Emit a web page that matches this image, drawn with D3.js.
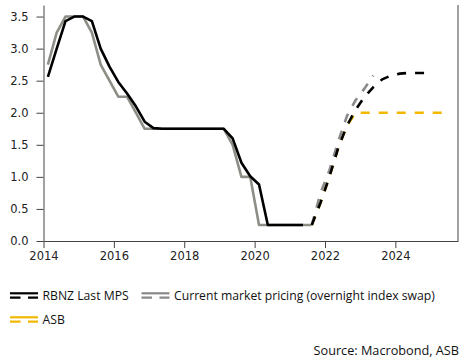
<!DOCTYPE html>
<html>
<head>
<meta charset="utf-8">
<script src="https://cdn.jsdelivr.net/npm/d3@7"></script>
<style>
  body { margin: 0; background: #fff; }
  .axis text { font-family: "DejaVu Sans", sans-serif; font-size: 11.5px; fill: #222; }
  .axis path, .axis line { stroke: #444; }
  .legend text { font-family: "Open Sans", sans-serif; font-size: 12.2px; fill: #111; }
  .source { font-family: "Open Sans", sans-serif; font-size: 12.7px; fill: #111; }
</style>
</head>
<body>
<svg id="chart" width="471" height="363"></svg>
<script>
// quarterly history (mid-quarter, decimal years)
const histQuarters = [2014.125, 2014.375, 2014.625, 2014.875, 2015.125, 2015.375, 2015.625, 2015.875,
  2016.125, 2016.375, 2016.625, 2016.875, 2017.125, 2017.375, 2017.625, 2017.875,
  2018.125, 2018.375, 2018.625, 2018.875, 2019.125, 2019.375, 2019.625, 2019.875,
  2020.125, 2020.375, 2020.625, 2020.875, 2021.125, 2021.375, 2021.625];
const rbnzHist = [2.56, 3.0, 3.43, 3.5, 3.5, 3.43, 3.0, 2.72, 2.48, 2.3, 2.1, 1.86, 1.76, 1.75, 1.75, 1.75,
  1.75, 1.75, 1.75, 1.75, 1.75, 1.6, 1.22, 1.01, 0.88, 0.25, 0.25, 0.25, 0.25, 0.25];
const marketHist = [2.75, 3.25, 3.5, 3.5, 3.5, 3.25, 2.75, 2.5, 2.25, 2.25, 2.0, 1.75, 1.75, 1.75, 1.75, 1.75,
  1.75, 1.75, 1.75, 1.75, 1.75, 1.5, 1.0, 1.0, 0.25, 0.25, 0.25, 0.25, 0.25, 0.25, 0.25];

// forecast quarters
const fcQuarters = [2021.625, 2021.875, 2022.125, 2022.375, 2022.625, 2022.875, 2023.125, 2023.375,
  2023.625, 2023.875, 2024.125, 2024.375, 2024.625, 2024.875, 2025.125, 2025.375];
const rbnzFc = [0.25, 0.6, 1.0, 1.45, 1.8, 2.05, 2.25, 2.4, 2.52, 2.58, 2.61, 2.62, 2.62, 2.62];
const marketFc = [0.25, 0.75, 1.1, 1.55, 1.95, 2.2, 2.38, 2.58];
const asbFc = [0.25, 0.6, 1.0, 1.45, 1.8, 2.0, 2.0, 2.0, 2.0, 2.0, 2.0, 2.0, 2.0, 2.0, 2.0, 2.0];

const xTicks = [2014, 2016, 2018, 2020, 2022, 2024];
const yTicks = [0, 0.5, 1, 1.5, 2, 2.5, 3, 3.5];

const colors = { rbnz: "#000000", market: "#8a8a8a", marketHist: "#8e8e86", asb: "#f2b800" };

const margin = { top: 5, right: 13, bottom: 122, left: 43.5 };
const width = 471 - margin.left - margin.right;
const height = 363 - margin.top - margin.bottom;

const svg = d3.select("#chart");
const g = svg.append("g").attr("transform", `translate(${margin.left},${margin.top})`);

const x = d3.scaleLinear().domain([2014, 2025.78]).range([0, width]);
const y = d3.scaleLinear().domain([0, 3.68]).range([height, 0]);

// axes
g.append("g")
  .attr("class", "axis")
  .attr("transform", `translate(0,${height})`)
  .call(d3.axisBottom(x).tickValues(xTicks).tickFormat(d3.format("d")).tickSize(7).tickSizeOuter(0).tickPadding(4));

g.append("g")
  .attr("class", "axis")
  .call(d3.axisLeft(y).tickValues(yTicks).tickFormat(d3.format(".1f")).tickSize(7).tickSizeOuter(0).tickPadding(8));

// right frame line
g.append("line")
  .attr("x1", width).attr("x2", width)
  .attr("y1", 0).attr("y2", height)
  .attr("stroke", "#444");

const line = d3.line().x(d => x(d[0])).y(d => y(d[1]));
const pair = (qs, vs) => vs.map((v, i) => [qs[i], v]);

const series = [
  { pts: pair(histQuarters, marketHist), color: colors.marketHist, dash: null },
  { pts: pair(histQuarters, rbnzHist), color: colors.rbnz, dash: null },
  { pts: pair(fcQuarters, asbFc), color: colors.asb, dash: "9,9" },
  { pts: pair(fcQuarters, marketFc), color: colors.market, dash: "9,9" },
  { pts: pair(fcQuarters, rbnzFc), color: colors.rbnz, dash: "9,9" },
];

g.selectAll("path.series")
  .data(series)
  .join("path")
  .attr("class", "series")
  .attr("fill", "none")
  .attr("stroke", d => d.color)
  .attr("stroke-width", 2.6)
  .attr("stroke-linejoin", "round")
  .attr("stroke-dasharray", d => d.dash)
  .attr("d", d => line(d.pts));

// legend
const legendItems = [
  { label: "RBNZ Last MPS", color: colors.rbnz, x: 10, y: 300 },
  { label: "Current market pricing (overnight index swap)", color: colors.market, x: 141.5, y: 300 },
  { label: "ASB", color: colors.asb, x: 10, y: 324 },
];

const lg = svg.append("g").attr("class", "legend")
  .selectAll("g")
  .data(legendItems)
  .join("g")
  .attr("transform", d => `translate(${d.x},${d.y})`);

lg.append("line")
  .attr("x1", 0).attr("x2", 28).attr("y1", -6.7).attr("y2", -6.7)
  .attr("stroke", d => d.color).attr("stroke-width", 2.2);
lg.append("line")
  .attr("x1", 0).attr("x2", 28).attr("y1", -2.3).attr("y2", -2.3)
  .attr("stroke", d => d.color).attr("stroke-width", 2.2)
  .attr("stroke-dasharray", "10.5,7.5");
lg.append("text")
  .attr("x", 32.5)
  .text(d => d.label);

svg.append("text")
  .attr("class", "source")
  .attr("x", 459).attr("y", 355)
  .attr("text-anchor", "end")
  .text("Source: Macrobond, ASB");
</script>
</body>
</html>
